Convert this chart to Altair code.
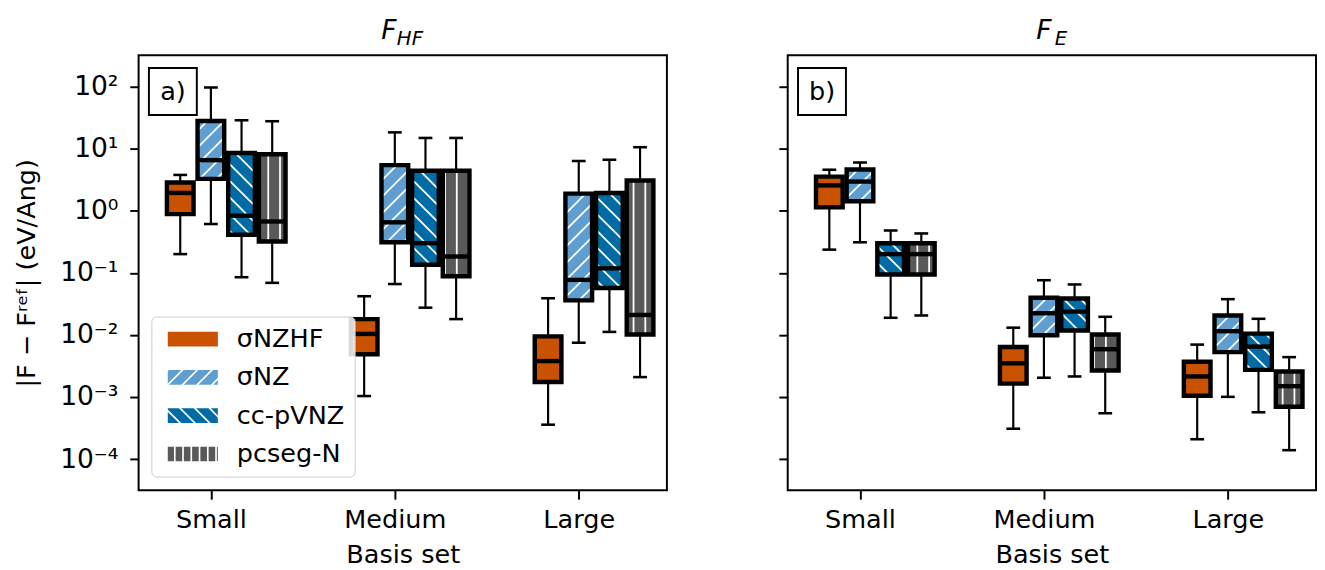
import math
import pandas as pd
import altair as alt

# ---------------- data ----------------
CATEGORIES = ["Small", "Medium", "Large"]
SERIES = ["σNZHF", "σNZ", "cc-pVNZ", "pcseg-N"]
COLORS = ["#C85200", "#5F9ED1", "#006BA4", "#595959"]
HATCHES = ["", "/", "\\", "||"]
PANEL_TITLES = [("F", "HF"), ("F", "E")]
PANEL_TAGS = ["a)", "b)"]
X_TITLE = "Basis set"
Y_TITLE = "|F − Fʳᵉᶠ| (eV/Ang)"
Y_EXPONENTS = [-4, -3, -2, -1, 0, 1, 2]

# panel a) F_HF : whisker low, Q1, median, Q3, whisker high  (Small, Medium, Large)
HF_LO = {"σNZHF": [0.20, 0.00104, 0.00036], "σNZ": [0.61, 0.066, 0.0075],
         "cc-pVNZ": [0.085, 0.0275, 0.0112], "pcseg-N": [0.069, 0.018, 0.0021]}
HF_Q1 = {"σNZHF": [0.88, 0.0049, 0.00175], "σNZ": [3.25, 0.31, 0.036],
         "cc-pVNZ": [0.41, 0.135, 0.057], "pcseg-N": [0.32, 0.088, 0.0102]}
HF_MED = {"σNZHF": [1.93, 0.0104, 0.0038], "σNZ": [6.5, 0.65, 0.077],
          "cc-pVNZ": [0.83, 0.30, 0.118], "pcseg-N": [0.67, 0.183, 0.021]}
HF_Q3 = {"σNZHF": [2.84, 0.018, 0.0095], "σNZ": [27.8, 5.4, 1.88],
         "cc-pVNZ": [8.5, 4.4, 1.93], "pcseg-N": [8.1, 4.4, 3.06]}
HF_HI = {"σNZHF": [3.76, 0.042, 0.039], "σNZ": [96.0, 18.2, 6.3],
         "cc-pVNZ": [28.5, 14.8, 6.6], "pcseg-N": [27.5, 14.8, 10.5]}

# panel b) F_E
E_LO = {"σNZHF": [0.236, 0.00031, 0.00021], "σNZ": [0.31, 0.00205, 0.00101],
        "cc-pVNZ": [0.0189, 0.00215, 0.00057], "pcseg-N": [0.0206, 0.00055, 0.00014]}
E_Q1 = {"σNZHF": [1.13, 0.00165, 0.00105], "σNZ": [1.42, 0.0099, 0.0053],
        "cc-pVNZ": [0.094, 0.0118, 0.00274], "pcseg-N": [0.094, 0.00268, 0.0007]}
E_MED = {"σNZHF": [2.55, 0.0035, 0.00215], "σNZ": [2.94, 0.0224, 0.0115],
         "cc-pVNZ": [0.20, 0.0238, 0.0065], "pcseg-N": [0.20, 0.0059, 0.0015]}
E_Q3 = {"σNZHF": [3.53, 0.0064, 0.0037], "σNZ": [4.6, 0.0396, 0.0206],
        "cc-pVNZ": [0.30, 0.0386, 0.0105], "pcseg-N": [0.30, 0.0102, 0.00258]}
E_HI = {"σNZHF": [4.56, 0.0131, 0.0070], "σNZ": [5.96, 0.076, 0.0377],
        "cc-pVNZ": [0.48, 0.065, 0.0182], "pcseg-N": [0.43, 0.0196, 0.0044]}

# ---------------- layout / style ----------------
W, H = 538, 443
XMIN = 0.607
XMAX = XMIN + W / 187.3
LMIN, LMAX = -4.5, 2.5
BOX_W = 0.145
CAP_W = 0.075
OFFSETS = [-1 / 6, 0, 1 / 6, 2 / 6]
HATCH_STEP = 17.0     # px between diagonal hatch lines
VHATCH_STEP = 12.0    # px between vertical hatch lines
FONT = "DejaVu Sans"
FS = 26

KX = W / (XMAX - XMIN)
KY = H / (LMAX - LMIN)


def build_df(lo, q1, med, q3, hi):
    rows = []
    for si, s in enumerate(SERIES):
        for ci, c in enumerate(CATEGORIES):
            pos = ci + 1 + OFFSETS[si]
            rows.append(dict(series=s, cat=c, pos=pos,
                             x0=pos - BOX_W / 2, x1=pos + BOX_W / 2,
                             c0=pos - CAP_W / 2, c1=pos + CAP_W / 2,
                             lo=lo[s][ci], q1=q1[s][ci], med=med[s][ci],
                             q3=q3[s][ci], hi=hi[s][ci], hatch=HATCHES[si]))
    return pd.DataFrame(rows)


def to_data(X, Y):
    return XMIN + X / KX, 10 ** (LMIN + Y / KY)


def build_hatch(df):
    segs = []
    for _, r in df.iterrows():
        X0, X1 = (r.x0 - XMIN) * KX, (r.x1 - XMIN) * KX
        Y0, Y1 = (math.log10(r.q1) - LMIN) * KY, (math.log10(r.q3) - LMIN) * KY
        if r.hatch == "/":
            k0 = math.floor((Y0 - X1) / HATCH_STEP)
            k1 = math.ceil((Y1 - X0) / HATCH_STEP)
            for k in range(k0, k1 + 1):
                c = k * HATCH_STEP
                xa, xb = max(X0, Y0 - c), min(X1, Y1 - c)
                if xb - xa > 0.5:
                    segs.append((to_data(xa, xa + c), to_data(xb, xb + c)))
        elif r.hatch == "\\":
            k0 = math.floor((X0 + Y0) / HATCH_STEP)
            k1 = math.ceil((X1 + Y1) / HATCH_STEP)
            for k in range(k0, k1 + 1):
                c = k * HATCH_STEP
                xa, xb = max(X0, c - Y1), min(X1, c - Y0)
                if xb - xa > 0.5:
                    segs.append((to_data(xa, c - xa), to_data(xb, c - xb)))
        elif r.hatch == "||":
            k0 = math.ceil(X0 / VHATCH_STEP)
            k1 = math.floor(X1 / VHATCH_STEP)
            for k in range(k0, k1 + 1):
                X = k * VHATCH_STEP
                segs.append((to_data(X, Y0), to_data(X, Y1)))
    return pd.DataFrame([dict(hx0=a[0], hy0=a[1], hx1=b[0], hy1=b[1]) for a, b in segs])


# ---------- legend symbols: rectangles with hatch holes ----------
def clip(poly, a, b, d):
    out = []
    n = len(poly)
    for i in range(n):
        P, Q = poly[i], poly[(i + 1) % n]
        fp = a * P[0] + b * P[1] - d
        fq = a * Q[0] + b * Q[1] - d
        if fp <= 0:
            out.append(P)
        if fp * fq < 0:
            t = fp / (fp - fq)
            out.append((P[0] + t * (Q[0] - P[0]), P[1] + t * (Q[1] - P[1])))
    return out


def area(poly):
    return 0.5 * sum(poly[i][0] * poly[(i + 1) % len(poly)][1] -
                     poly[(i + 1) % len(poly)][0] * poly[i][1] for i in range(len(poly)))


def poly_path(poly):
    return "M" + "L".join(f"{x:.3f},{y:.3f}" for x, y in poly) + "Z"


def legend_shape(hatch):
    u = 8.0  # px per symbol unit (sqrt(size)/2)
    rx0, rx1, ry0, ry1 = -6.3 / u, 44.7 / u, -7.5 / u, 7.5 / u
    rect = [(rx0, ry0), (rx1, ry0), (rx1, ry1), (rx0, ry1)]
    parts = [poly_path(rect)]
    sgn = area(rect)
    bands = []
    if hatch in ("/", "\\"):
        step, w = 15.0 / u, 1.7 / u * math.sqrt(2)
        for k in range(-6, 8):
            c = k * step
            if hatch == "/":
                bands.append([(1, 1, c + w), (-1, -1, -c)])
            else:
                bands.append([(-1, 1, c + w), (1, -1, -c)])
    elif hatch == "||":
        step, w = 8.4 / u, 1.7 / u
        for k in range(-2, 8):
            c = k * step
            bands.append([(1, 0, c + w), (-1, 0, -c)])
    for hp in bands:
        p = rect
        for a, b, d in hp:
            p = clip(p, a, b, d)
            if len(p) < 3:
                break
        if len(p) >= 3 and abs(area(p)) > 1e-4:
            if area(p) * sgn > 0:
                p = p[::-1]
            parts.append(poly_path(p))
    return "".join(parts)


SHAPES = [legend_shape(h) for h in HATCHES]

# ---------- scales & axes ----------
X_SCALE = alt.Scale(domain=[XMIN, XMAX], nice=False, zero=False)
Y_SCALE = alt.Scale(type="log", domain=[10 ** LMIN, 10 ** LMAX], nice=False)
COLOR_SCALE = alt.Scale(domain=SERIES, range=COLORS)
SHAPE_SCALE = alt.Scale(domain=SERIES, range=SHAPES)

SUP = {"-": "⁻", "0": "⁰", "1": "¹", "2": "²", "3": "³", "4": "⁴",
       "5": "⁵", "6": "⁶", "7": "⁷", "8": "⁸", "9": "⁹"}
ylab = "''"
for e in Y_EXPONENTS:
    s = "".join(SUP[ch] for ch in str(e))
    ylab = f"round(log(datum.value)/LN10) == {e} ? '{s}' : ({ylab})"
YLABEL_EXPR = "'10' + (" + ylab + ")"

xlab = "''"
for i, c in enumerate(CATEGORIES):
    xlab = f"round(datum.value) == {i + 1} ? '{c}' : ({xlab})"

X_AXIS = alt.Axis(title=X_TITLE, values=[1, 2, 3], labelExpr=xlab, labelFlush=False,
                  labelPadding=8, titlePadding=9)


def y_axis(show):
    if show:
        return alt.Axis(title=Y_TITLE, values=[10.0 ** e for e in Y_EXPONENTS],
                        labelExpr=YLABEL_EXPR, labelOverlap=False, labelPadding=12,
                        labelFontSize=27, titlePadding=21)
    return alt.Axis(title=None, values=[10.0 ** e for e in Y_EXPONENTS], labels=False)


LEGEND = alt.Legend(title=None, orient="none", legendX=13, legendY=266, padding=10,
                    symbolSize=256, symbolStrokeWidth=0, symbolOpacity=1,
                    labelFont=FONT, labelFontSize=FS, labelColor="black",
                    labelOffset=51, rowPadding=13, labelLimit=400,
                    fillColor="rgba(255,255,255,0.85)", strokeColor="#cccccc",
                    cornerRadius=5)


def panel(idx, stats, legend):
    df = build_df(*stats)
    hd = build_hatch(df)
    yax = y_axis(idx == 0)
    leg = LEGEND if legend else None
    base = alt.Chart(df)

    def X(f):
        return alt.X(f, type="quantitative", scale=X_SCALE, axis=X_AXIS)

    def Y(f):
        return alt.Y(f, type="quantitative", scale=Y_SCALE, axis=yax)

    layers = []
    if legend:
        # tiny points hidden under the boxes: they carry the hatched legend symbols
        layers.append(base.mark_point(filled=True, size=4, strokeWidth=0).encode(
            x=X("pos"), y=Y("med"),
            color=alt.Color("series:N", scale=COLOR_SCALE, sort=SERIES, legend=leg),
            shape=alt.Shape("series:N", scale=SHAPE_SCALE, sort=SERIES, legend=leg)))
    layers += [
        base.mark_rect(strokeWidth=0).encode(
            x=X("x0"), x2="x1", y=Y("q1"), y2="q3",
            color=alt.Color("series:N", scale=COLOR_SCALE, sort=SERIES, legend=leg)),
        alt.Chart(hd).mark_rule(color="white", strokeWidth=1.8).encode(
            x=X("hx0"), x2="hx1", y=Y("hy0"), y2="hy1"),
        base.mark_rule(color="black", strokeWidth=2.2).encode(x=X("pos"), y=Y("q3"), y2="hi"),
        base.mark_rule(color="black", strokeWidth=2.2).encode(x=X("pos"), y=Y("lo"), y2="q1"),
        base.mark_rule(color="black", strokeWidth=2.6).encode(x=X("c0"), x2="c1", y=Y("hi")),
        base.mark_rule(color="black", strokeWidth=2.6).encode(x=X("c0"), x2="c1", y=Y("lo")),
        base.mark_rect(fillOpacity=0, stroke="black", strokeWidth=4.5).encode(
            x=X("x0"), x2="x1", y=Y("q1"), y2="q3"),
        base.mark_rule(color="black", strokeWidth=4.5).encode(x=X("x0"), x2="x1", y=Y("med")),
    ]
    one = pd.DataFrame({"t": [PANEL_TAGS[idx]]})
    layers.append(alt.Chart(one).mark_rect(fillOpacity=0, stroke="black", strokeWidth=2).encode(
        x=alt.value(10.5), x2=alt.value(59.3), y=alt.value(13), y2=alt.value(60.7)))
    layers.append(alt.Chart(one).mark_text(font=FONT, fontSize=FS, align="center",
                                           baseline="middle", color="black").encode(
        text="t:N", x=alt.value(35), y=alt.value(37)))
    main, sub = PANEL_TITLES[idx]
    tx = [(247, 263), (253, 272)][idx]
    layers.append(alt.Chart(pd.DataFrame({"t": [main]})).mark_text(
        font=FONT, fontSize=27, fontStyle="italic", align="left", baseline="alphabetic",
        color="black").encode(text="t:N", x=alt.value(tx[0]), y=alt.value(-16.5)))
    layers.append(alt.Chart(pd.DataFrame({"t": [sub]})).mark_text(
        font=FONT, fontSize=20, fontStyle="italic", align="left", baseline="alphabetic",
        color="black").encode(text="t:N", x=alt.value(tx[1]), y=alt.value(-11)))
    return alt.layer(*layers).properties(width=W, height=H)


pa = panel(0, (HF_LO, HF_Q1, HF_MED, HF_Q3, HF_HI), True)
pb = panel(1, (E_LO, E_Q1, E_MED, E_Q3, E_HI), False)

chart = (
    alt.hconcat(pa, pb, spacing=111)
    .resolve_scale(color="independent", shape="independent")
    .resolve_legend(color="independent", shape="independent")
    .properties(padding={"left": 4, "top": 3, "right": 0, "bottom": 0})
    .configure_view(stroke="black", strokeWidth=2)
    .configure_axis(labelFont=FONT, titleFont=FONT, labelFontSize=FS, titleFontSize=FS,
                    labelColor="black", titleColor="black", tickColor="black",
                    tickWidth=2, tickSize=9, domain=False, grid=False,
                    titleFontWeight="normal")
)

chart.save("out.html", embed_options={"renderer": "svg", "actions": False})
